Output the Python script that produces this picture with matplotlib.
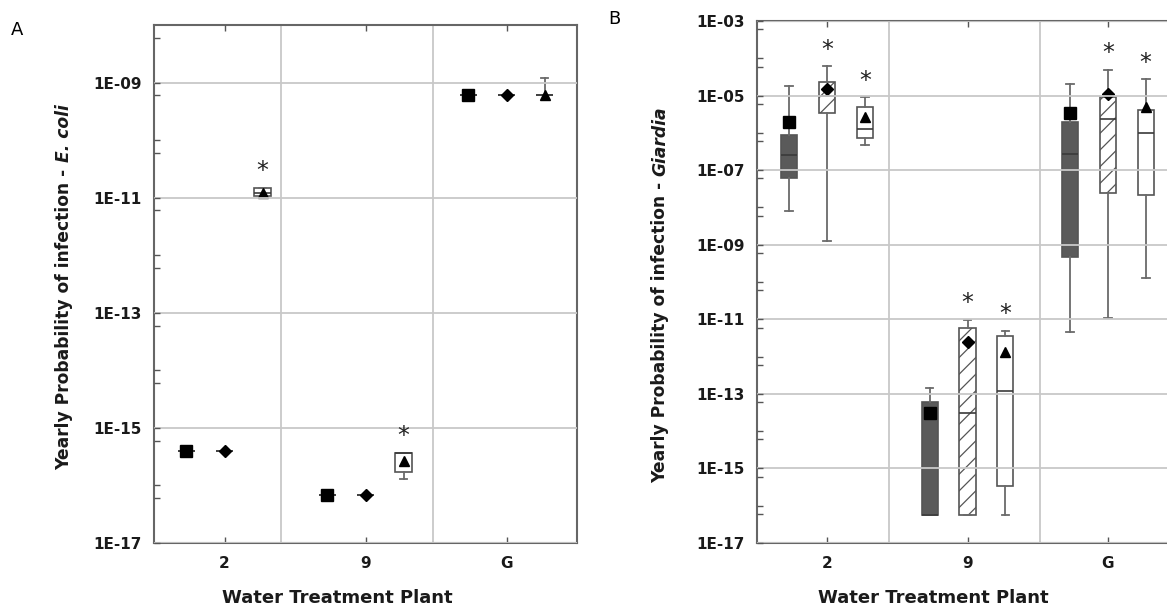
import matplotlib

matplotlib.use("Agg")

import matplotlib.pyplot as plt
import numpy as np
from matplotlib.ticker import FixedLocator, FuncFormatter, NullFormatter

plt.rcParams["font.family"] = ["DejaVu Sans"]
plt.rcParams["hatch.linewidth"] = 0.9

W, H = 1167, 608

CATEGORIES = ["2", "9", "G"]

# Panel A - E. coli (square / diamond series collapse to a single value)
A_SQ_VALUE = [3.9e-16, 6.8e-17, 6.0e-10]
A_DI_VALUE = [3.9e-16, 6.8e-17, 6.0e-10]
A_TR_LO = [1.0e-11, 1.3e-16, 6.0e-10]
A_TR_Q1 = [1.05e-11, 1.7e-16, 6.0e-10]
A_TR_MED = [1.2e-11, 3.6e-16, 6.0e-10]
A_TR_Q3 = [1.45e-11, 3.7e-16, 6.0e-10]
A_TR_HI = [1.5e-11, 3.7e-16, 1.2e-9]
A_TR_MEAN = [1.2e-11, 2.7e-16, 6.2e-10]
A_TR_STAR = [True, True, False]

# Panel B - Giardia
B_DK_LO = [8.0e-9, 5.8e-17, 4.7e-12]
B_DK_Q1 = [6.0e-8, 5.8e-17, 4.8e-10]
B_DK_MED = [2.5e-7, 5.8e-17, 2.7e-7]
B_DK_Q3 = [8.7e-7, 6.0e-14, 1.9e-6]
B_DK_HI = [1.8e-5, 1.4e-13, 2.0e-5]
B_DK_MEAN = [1.9e-6, 3.0e-14, 3.5e-6]

B_HT_LO = [1.26e-9, 5.8e-17, 1.07e-11]
B_HT_Q1 = [3.4e-6, 5.8e-17, 2.4e-8]
B_HT_MED = [1.0e-5, 3.0e-14, 2.3e-6]
B_HT_Q3 = [2.3e-5, 5.8e-12, 8.9e-6]
B_HT_HI = [6.1e-5, 9.5e-12, 4.9e-5]
B_HT_MEAN = [1.5e-5, 2.5e-12, 1.1e-5]
B_HT_STAR = [True, True, True]

B_WH_LO = [4.6e-7, 5.8e-17, 1.3e-10]
B_WH_Q1 = [7.1e-7, 3.3e-16, 2.1e-8]
B_WH_MED = [1.26e-6, 1.23e-13, 1.0e-6]
B_WH_Q3 = [4.8e-6, 3.5e-12, 4.1e-6]
B_WH_HI = [8.9e-6, 5.0e-12, 2.7e-5]
B_WH_MEAN = [2.7e-6, 1.35e-12, 5.0e-6]
B_WH_STAR = [True, True, True]

EDGE = "#555555"
GRID = "#c8c8c8"
DARK = "#5a5a5a"
OFFSET = 0.27
BOX_W = 0.115
CAP_W = 0.055


def draw_series(ax, offset, lo, q1, med, q3, hi, mean, marker, msize, face, hatch=None, stars=None):
    pos = np.arange(1, len(CATEGORIES) + 1) + offset
    stats = [
        dict(whislo=a, q1=b, med=c, q3=d, whishi=e, mean=f, fliers=[])
        for a, b, c, d, e, f in zip(lo, q1, med, q3, hi, mean)
    ]
    ax.bxp(
        stats,
        positions=pos,
        widths=BOX_W,
        capwidths=CAP_W,
        patch_artist=True,
        showmeans=True,
        manage_ticks=False,
        boxprops=dict(facecolor=face, edgecolor=EDGE, linewidth=1.2, hatch=hatch),
        whiskerprops=dict(color="#6a6a6a", linewidth=1.3),
        capprops=dict(color="#6a6a6a", linewidth=1.3),
        medianprops=dict(color="#3a3a3a", linewidth=1.2),
        meanprops=dict(marker=marker, markerfacecolor="black", markeredgecolor="black", markersize=msize),
    )
    if stars:
        for x, top, s in zip(pos, hi, stars):
            if s:
                ax.annotate("*", xy=(x, top), xytext=(0, 12), textcoords="offset points",
                            ha="center", va="center", fontsize=17, color="#222222")


def style_axis(ax, lo_exp, hi_exp, label_exps, grid_x):
    ax.set_yscale("log")
    ax.set_ylim(10.0 ** lo_exp, 10.0 ** hi_exp)
    ax.set_xlim(0.5, 3.5)
    ax.yaxis.set_major_locator(FixedLocator([10.0 ** e for e in label_exps]))
    ax.yaxis.set_major_formatter(FuncFormatter(lambda v, p: f"1E{int(round(np.log10(v))):03d}"))
    minor = [10.0 ** e for e in range(lo_exp, hi_exp) if e not in label_exps]
    minor += [0.6 * 10.0 ** e for e in range(lo_exp + 1, hi_exp + 1)]
    ax.yaxis.set_minor_locator(FixedLocator(minor))
    ax.yaxis.set_minor_formatter(NullFormatter())
    ax.set_xticks([1, 2, 3])
    ax.set_xticklabels(CATEGORIES)
    ax.tick_params(axis="y", which="both", direction="in", length=4, width=1.0, color=EDGE,
                   labelsize=11, pad=9)
    ax.tick_params(axis="x", direction="in", length=4, width=1.0, color=EDGE, top=True,
                   labelsize=11, pad=9)
    for lab in ax.get_xticklabels() + ax.get_yticklabels():
        lab.set_fontweight("bold")
        lab.set_color("#1a1a1a")
    ax.set_axisbelow(False)
    ax.grid(axis="y", which="major", color=GRID, linewidth=1.3)
    for gx in grid_x:
        ax.axvline(gx, color=GRID, linewidth=1.3, zorder=2.5)
    for sp in ax.spines.values():
        sp.set_color("#666666")
        sp.set_linewidth(1.5)


def two_part_ylabel(fig, x_px, yc_px, plain, ital):
    t1 = fig.text(x_px / W, 0.5, plain, rotation=90, ha="center", va="bottom",
                  fontsize=12.3, fontweight="bold", color="#1a1a1a")
    t2 = fig.text(x_px / W, 0.5, ital, rotation=90, ha="center", va="bottom",
                  fontsize=12.3, fontweight="bold", style="italic", color="#1a1a1a")
    fig.canvas.draw()
    r = fig.canvas.get_renderer()
    h1 = t1.get_window_extent(r).height
    h2 = t2.get_window_extent(r).height
    gap = 6
    y0 = (H - yc_px) - (h1 + gap + h2) / 2
    t1.set_y(y0 / H)
    t2.set_y((y0 + h1 + gap) / H)


fig = plt.figure(figsize=(W / 100, H / 100), dpi=100, facecolor="white")

# panel A
axA = fig.add_axes([154 / W, 1 - 543 / H, (577 - 154) / W, (543 - 25) / H])
style_axis(axA, -17, -8, [-17, -15, -13, -11, -9], [1.40, 2.48])
draw_series(axA, -OFFSET, A_SQ_VALUE, A_SQ_VALUE, A_SQ_VALUE, A_SQ_VALUE, A_SQ_VALUE, A_SQ_VALUE,
            "s", 8, "white")
draw_series(axA, 0, A_DI_VALUE, A_DI_VALUE, A_DI_VALUE, A_DI_VALUE, A_DI_VALUE, A_DI_VALUE,
            "D", 6, "white")
draw_series(axA, OFFSET, A_TR_LO, A_TR_Q1, A_TR_MED, A_TR_Q3, A_TR_HI, A_TR_MEAN,
            "^", 7.5, "white", stars=A_TR_STAR)

# panel B
axB = fig.add_axes([757 / W, 1 - 543 / H, (1178 - 757) / W, (543 - 21) / H])
style_axis(axB, -17, -3, [-17, -15, -13, -11, -9, -7, -5, -3], [1.44, 2.52])
draw_series(axB, -OFFSET, B_DK_LO, B_DK_Q1, B_DK_MED, B_DK_Q3, B_DK_HI, B_DK_MEAN,
            "s", 8, DARK)
draw_series(axB, 0, B_HT_LO, B_HT_Q1, B_HT_MED, B_HT_Q3, B_HT_HI, B_HT_MEAN,
            "D", 6, "white", hatch="//", stars=B_HT_STAR)
draw_series(axB, OFFSET, B_WH_LO, B_WH_Q1, B_WH_MED, B_WH_Q3, B_WH_HI, B_WH_MEAN,
            "^", 7.5, "white", stars=B_WH_STAR)

# axis titles
fig.text(337 / W, 1 - 598 / H, "Water Treatment Plant", ha="center", va="center",
         fontsize=13, fontweight="bold", color="#1a1a1a")
fig.text(933 / W, 1 - 598 / H, "Water Treatment Plant", ha="center", va="center",
         fontsize=13, fontweight="bold", color="#1a1a1a")
fig.text(17 / W, 1 - 30 / H, "A", ha="center", va="center", fontsize=13)
fig.text(614 / W, 1 - 19 / H, "B", ha="center", va="center", fontsize=13)

two_part_ylabel(fig, 64, 287, "Yearly Probability of infection -", "E. coli")
two_part_ylabel(fig, 660, 295, "Yearly Probability of infection -", "Giardia")

fig.savefig("out.png", dpi=100, facecolor="white")
